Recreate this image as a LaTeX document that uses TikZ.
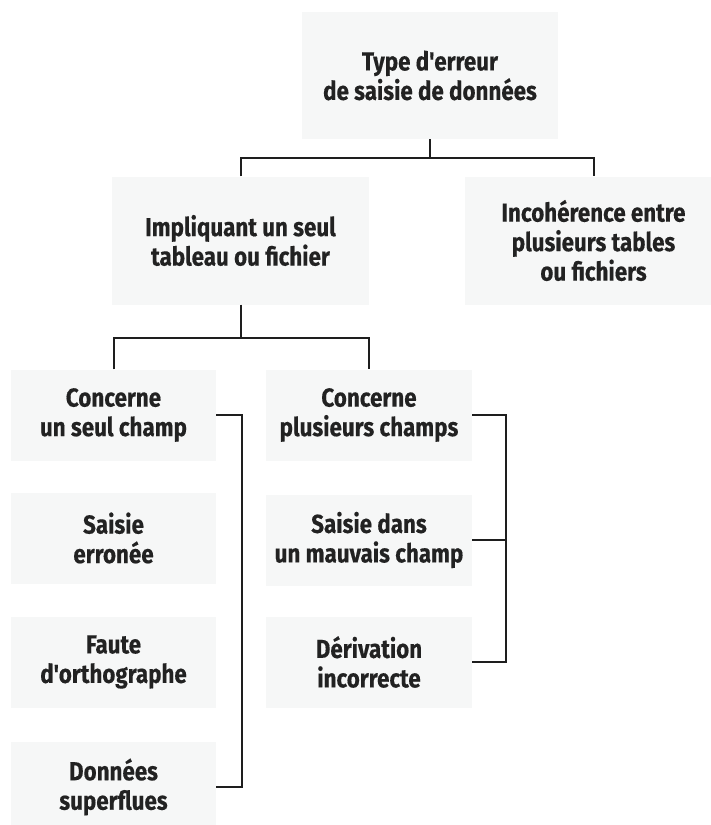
\documentclass[tikz,border=0pt]{standalone}
\usepackage{fontspec}
\setmainfont{Fira Sans}[FakeStretch=0.86,Ligatures=TeXOff,BoldFeatures={FakeBold=0.4}]
\definecolor{boxfill}{HTML}{F6F7F7}
\definecolor{txt}{HTML}{222222}
\definecolor{ln}{HTML}{1E1E1E}
\begin{document}
\begin{tikzpicture}[x=1pt,y=-1pt,
  box/.style={fill=boxfill,draw=none,align=center,text=txt,inner sep=0pt,
    font=\bfseries\fontsize{26}{29.5}\selectfont},
  big/.style={box,minimum width=257pt,minimum height=128pt},
  small/.style={box,minimum width=205pt,minimum height=91pt},
  link/.style={draw=ln,line width=2pt}]
\useasboundingbox (0,0) rectangle (710,825);
\node[big,minimum width=256pt,minimum height=127pt] (top) at (430,75.5) {Type d'erreur\\de saisie de données};
\node[big] (impl) at (240.5,240.5) {Impliquant un seul\\tableau ou fichier};
\node[big] (inco) at (593.5,240.5) {Incohérence entre\\plusieurs tables\\ou fichiers};
\node[small] (c1) at (113.5,415) {Concerne\\un seul champ};
\node[small] (s1) at (113.5,538) {Saisie\\erronée};
\node[small] (f1) at (113.5,662) {Faute\\d'orthographe};
\node[small] (d1) at (113.5,787) {Données\\superflues};
\node[small,minimum width=206pt] (c2) at (369,415) {Concerne\\plusieurs champs};
\node[small,minimum width=206pt] (s2) at (369,540) {Saisie dans\\un mauvais champ};
\node[small,minimum width=206pt] (d2) at (369,662) {Dérivation\\incorrecte};
\coordinate (j1) at (430,158);
\coordinate (j2) at (240.5,338);
\coordinate (b1) at (242,415);
\coordinate (b2) at (506,415);
\draw[link] (top.south) -- (j1);
\draw[link] (impl.north) |- (j1) -| (inco.north);
\draw[link] (impl.south) -- (j2);
\draw[link] (c1.north) |- (j2) -| (c2.north);
\draw[link] (c1.east) -- (b1) |- (d1.east);
\draw[link] (c2.east) -- (b2) |- (d2.east);
\draw[link] (s2.east) -| (b2);
\end{tikzpicture}
\end{document}
